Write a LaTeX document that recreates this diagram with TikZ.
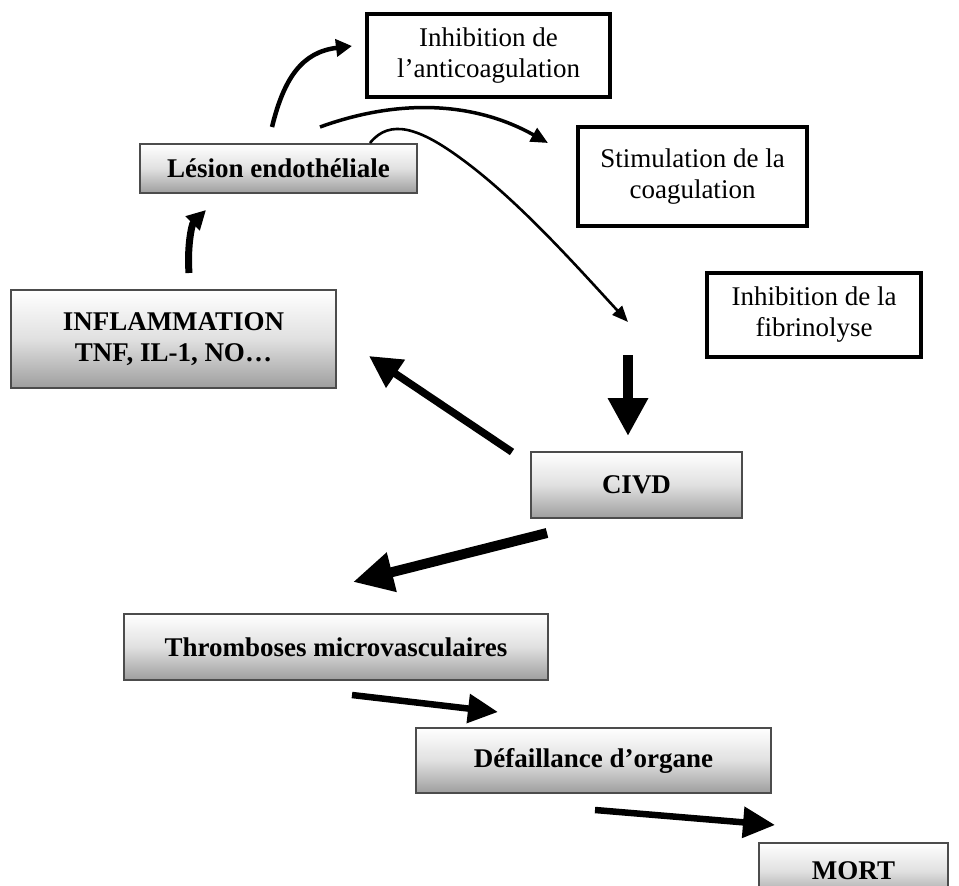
\documentclass[tikz,border=0pt]{standalone}
\usepackage{fontspec}
\setmainfont{Liberation Serif}
\usetikzlibrary{arrows.meta}
\begin{document}
\begin{tikzpicture}[x=1pt,y=-1pt,
  plainbox/.style={draw=black,line width=4pt,fill=white,align=center,
    font=\fontsize{27}{31}\selectfont,inner sep=0pt},
  gradbox/.style={draw=black!70,line width=2pt,top color=white,bottom color=black!38,
    middle color=black!12,align=center,
    font=\fontsize{27}{31}\selectfont\bfseries,inner sep=0pt},
  arr/.style={line width=#1,-{Triangle[length=2.6*#1,width=2.6*#1]}},
]
\useasboundingbox (0,0) rectangle (959,886);
\clip (0,0) rectangle (959,886);

% nodes
\node[plainbox,minimum width=243pt,minimum height=83pt] (anti) at (488.5,55.5) {Inhibition de\\l’anticoagulation};
\node[plainbox,minimum width=229pt,minimum height=99pt] (coag) at (692.5,176.5) {Stimulation de la\\coagulation};
\node[plainbox,minimum width=214pt,minimum height=84pt] (fib) at (814,315) {Inhibition de la\\fibrinolyse};
\node[gradbox,minimum width=277pt,minimum height=49pt] (les) at (278.5,168.5) {Lésion endothéliale};
\node[gradbox,minimum width=325pt,minimum height=98pt] (inf) at (173.5,339) {INFLAMMATION\\TNF, IL-1, NO…};
\node[gradbox,minimum width=211pt,minimum height=66pt] (civd) at (636.5,485) {CIVD};
\node[gradbox,minimum width=424pt,minimum height=66pt] (thr) at (336,647) {Thromboses microvasculaires};
\node[gradbox,minimum width=355pt,minimum height=65pt] (def) at (593.5,760.5) {Défaillance d’organe};
\node[gradbox,minimum width=189pt,minimum height=56pt,anchor=north west,text depth=0pt] (mort) at (758,842) {MORT\vphantom{g}};
\path (mort.south west) -- ++(0,30);

% free ends of connectors
\coordinate (a1s) at (272,127);
\coordinate (a1e) at (352,46);
\coordinate (a2s) at (320,127);
\coordinate (a2e) at (548,143);
\coordinate (a3s) at (370,143);
\coordinate (a3m) at (463,160);
\coordinate (a3e) at (628,322);
\coordinate (a4s) at (628,355);
\coordinate (a4e) at (628,436);
\coordinate (a5s) at (512,452);
\coordinate (a5e) at (369,356);
\coordinate (a6s) at (189,273);
\coordinate (a6e) at (206,210);
\coordinate (a7s) at (547,533);
\coordinate (a7e) at (353,582);
\coordinate (a8s) at (352,695);
\coordinate (a8e) at (498,712);
\coordinate (a9s) at (595,810);
\coordinate (a9e) at (775,825);

% connectors
\draw[line width=4.5pt,-{Triangle[length=16pt,width=17pt]}] (a1s) .. controls (284,78) and (302,52) .. (a1e);
\draw[line width=3.5pt,-{Triangle[length=17pt,width=15pt]}] (a2s) .. controls (400,98) and (475,102) .. (a2e);
\draw[line width=2.6pt,-{Triangle[length=16pt,width=13pt]}] (a3s) .. controls (390,118) and (420,128) .. (a3m) .. controls (520,202) and (580,270) .. (a3e);
\draw[line width=10pt,-{Triangle[length=38pt,width=38pt]}] (a4s) -- (a4e);
\draw[line width=7.5pt,-{Triangle[length=32pt,width=32pt]}] (a5s) -- (a5e);
\draw[line width=7pt,-{Triangle[length=19pt,width=19pt]}] (a6s) .. controls (187,245) and (192,224) .. (a6e);
\draw[line width=10pt,-{Triangle[length=40pt,width=38pt]}] (a7s) -- (a7e);
\draw[line width=6.5pt,-{Triangle[length=30pt,width=28pt]}] (a8s) -- (a8e);
\draw[line width=6.5pt,-{Triangle[length=32pt,width=30pt]}] (a9s) -- (a9e);
\end{tikzpicture}
\end{document}
